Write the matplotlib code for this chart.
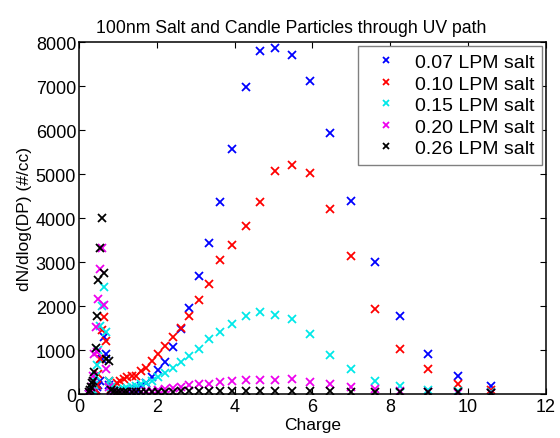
import numpy as np
import matplotlib
matplotlib.use("Agg")
import matplotlib.pyplot as plt

plt.rcParams['font.family'] = ['Liberation Sans', 'DejaVu Sans']

# charge channels
charge = [0.26, 0.28, 0.31, 0.33, 0.36, 0.39, 0.43, 0.46, 0.50, 0.55,
          0.59, 0.64, 0.70, 0.76, 0.83, 0.90, 0.97, 1.06, 1.15, 1.24,
          1.35, 1.47, 1.59, 1.73, 1.88, 2.04, 2.22, 2.41, 2.61, 2.84,
          3.08, 3.34, 3.63, 3.94, 4.28, 4.65, 5.04, 5.48, 5.94, 6.45,
          7.00, 7.60, 8.25, 8.97, 9.75, 10.58]

salt_007 = [0, 10, 20, 30, 50, 70, 100, 150, 200, 300,
            800, 1300, 900, 200, 80, 50, 40, 40, 50, 60,
            80, 120, 180, 250, 380, 540, 720, 1060, 1490, 1960,
            2680, 3430, 4360, 5560, 6980, 7800, 7860, 7700, 7110, 5930,
            4380, 3000, 1780, 900, 400, 180]

salt_010 = [0, 10, 20, 30, 50, 70, 100, 200, 450, 800,
            1450, 1750, 1200, 300, 120, 180, 250, 300, 340, 380,
            400, 415, 530, 600, 760, 910, 1100, 1290, 1500, 1780,
            2140, 2500, 3050, 3390, 3830, 4360, 5075, 5210, 5020, 4200,
            3130, 1930, 1020, 570, 230, 100]

salt_015 = [0, 10, 30, 60, 100, 200, 400, 650, 1000, 1550,
            2000, 2430, 1400, 300, 150, 100, 90, 100, 110, 130,
            150, 180, 220, 250, 300, 380, 490, 600, 720, 870,
            1020, 1250, 1420, 1590, 1780, 1860, 1800, 1700, 1360, 890,
            570, 300, 175, 100, 80, 50]

salt_020 = [0, 20, 50, 150, 400, 900, 1520, 950, 2160, 2840,
            3330, 2020, 570, 150, 80, 50, 40, 35, 35, 35,
            40, 45, 55, 65, 80, 95, 115, 140, 170, 200,
            225, 240, 265, 290, 320, 315, 315, 350, 285, 240,
            170, 120, 80, 50, 30, 20]

salt_026 = [50, 100, 150, 250, 300, 500, 1050, 1780, 2600, 3330,
            4000, 2750, 800, 750, 100, 60, 50, 50, 50, 50,
            50, 50, 50, 50, 50, 50, 50, 50, 60, 60,
            60, 60, 60, 60, 60, 60, 60, 60, 60, 60,
            50, 50, 50, 40, 40, 30]

series = [salt_007, salt_010, salt_015, salt_020, salt_026]
labels = ['0.07 LPM salt', '0.10 LPM salt', '0.15 LPM salt',
          '0.20 LPM salt', '0.26 LPM salt']
colors = ['#0000ff', '#ff0000', '#00e8e8', '#ee00ee', '#000000']

fig = plt.figure(figsize=(5.6, 4.39), dpi=100)
ax = fig.add_axes([0.141, 0.10, 0.834, 0.802])

for vals, lab, col in zip(series, labels, colors):
    ax.plot(charge, vals, linestyle='none', marker='x', color=col,
            markersize=6, markeredgewidth=1.3, label=lab)

ax.set_xlim(0, 12)
ax.set_ylim(0, 8000)
ax.set_xticks(np.arange(0, 13, 2))
ax.set_yticks(np.arange(0, 8001, 1000))
ax.tick_params(direction='in', top=True, right=True, labelsize=13, length=4)
ax.tick_params(axis='x', pad=3)
ax.tick_params(axis='y', pad=2)
for sp in ax.spines.values():
    sp.set_linewidth(1.1)

ax.set_title('100nm Salt and Candle Particles through UV path', fontsize=12.7,
             x=0.454, pad=7)
ax.set_xlabel('Charge', fontsize=12.5, labelpad=1)
ax.set_ylabel('dN/dlog(DP) (#/cc)', fontsize=12.5, labelpad=3)

leg = ax.legend(loc='upper right', fontsize=14, fancybox=False,
                markerscale=0.8, handlelength=2, handletextpad=0.5,
                borderaxespad=0.2, labelspacing=0.2, framealpha=1)
leg.get_frame().set_edgecolor('0.5')

fig.savefig('out.png', dpi=100)
